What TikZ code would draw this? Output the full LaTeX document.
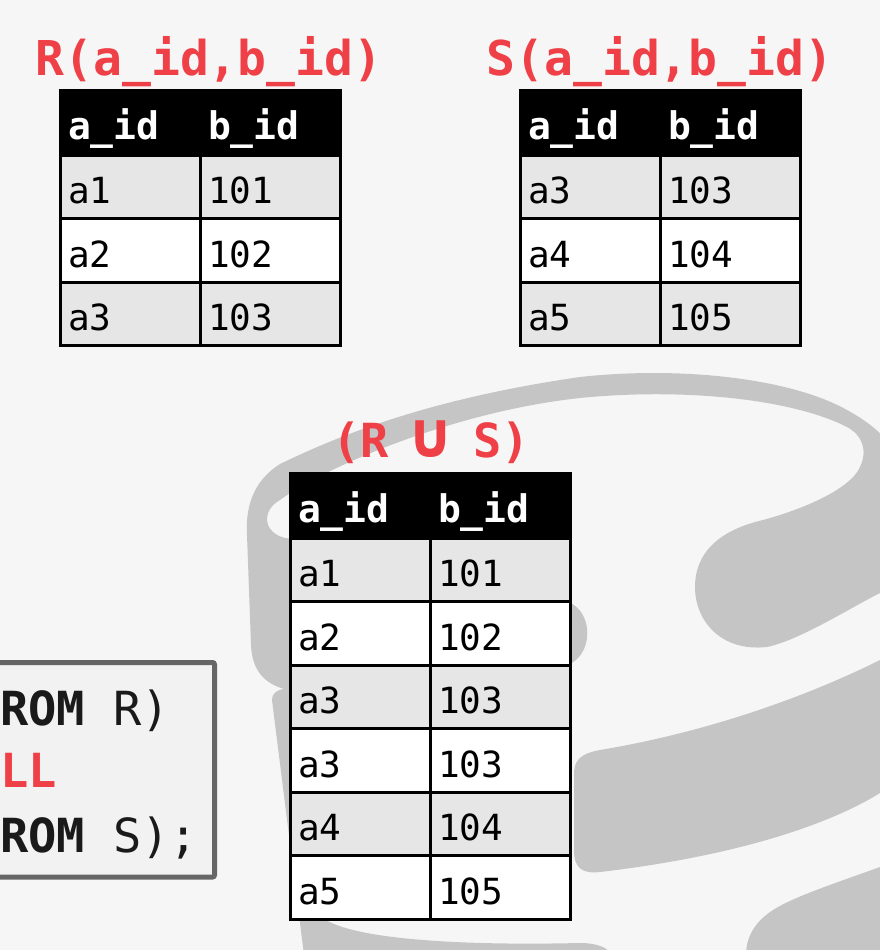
\documentclass[tikz,border=0pt]{standalone}
\usepackage{fontspec}
\setmonofont{DejaVu Sans Mono}
\usepackage{tikz}
\usetikzlibrary{positioning}

\definecolor{dbred}{RGB}{238,64,70}
\definecolor{logogray}{RGB}{197,197,197}
\definecolor{rowgray}{RGB}{230,230,230}
\definecolor{bggray}{RGB}{246,246,246}
\definecolor{boxline}{RGB}{102,102,102}
\definecolor{boxfill}{RGB}{242,242,242}
\definecolor{codeblack}{RGB}{26,26,26}

\newcommand{\ttlfont}{\ttfamily\bfseries\fontsize{48pt}{54pt}\selectfont}
\newcommand{\unionfont}{\ttfamily\bfseries\fontsize{47pt}{52pt}\selectfont}
\newcommand{\hdrfont}{\ttfamily\bfseries\fontsize{38pt}{42pt}\selectfont}
\newcommand{\cellfont}{\ttfamily\fontsize{36pt}{40pt}\selectfont}
\newcommand{\codefont}{\ttfamily\fontsize{47pt}{52pt}\selectfont}
\newcommand{\cupsign}{\makebox[0.6em]{\scalebox{1.5}[1.35]{∪}}}

\tikzstyle{cell} = [rectangle, draw=black, line width=3pt, outer sep=0pt, minimum height=63.5pt, text width=124pt, inner xsep=8pt, inner ysep=0pt, text height=34pt, text depth=0pt, align=left, font=\cellfont]
\tikzstyle{hdr} = [cell, fill=black, text=white, minimum height=65pt, font=\hdrfont]
\tikzstyle{grayrow} = [cell, fill=rowgray]
\tikzstyle{whiterow} = [cell, fill=white]
\tikzstyle{title} = [text=dbred, font=\ttlfont, anchor=base, inner sep=0pt]
\tikzstyle{code} = [text=codeblack, font=\codefont, anchor=base west, inner sep=0pt]
\tikzstyle{logo} = [fill=logogray]

\begin{document}
\begin{tikzpicture}[x=1pt, y=-1pt]
    \useasboundingbox (0,0) rectangle (880,950);
    \clip (0,0) rectangle (880,950);
    \fill[bggray] (0,0) rectangle (880,950);

    % logo in the background
    \fill[logo] (300,690) -- (288,690) .. controls (262,684) and (252,668) .. (251,645)
        -- (247,535) .. controls (245,500) and (258,478) .. (280,464)
        .. controls (330,440) and (420,400) .. (580,377)
        .. controls (680,366) and (790,378) .. (847,410)
        .. controls (880,428) and (900,450) .. (900,470)
        -- (900,585) -- (880,593)
        .. controls (850,608) and (800,640) .. (767,647)
        .. controls (720,652) and (695,620) .. (695,587)
        .. controls (695,552) and (720,530) .. (763,520)
        .. controls (800,510) and (850,490) .. (860,467)
        .. controls (868,450) and (862,435) .. (847,427)
        .. controls (790,398) and (680,388) .. (580,398)
        .. controls (450,412) and (320,470) .. (280,500)
        .. controls (262,510) and (262,532) .. (285,538)
        -- (300,540) -- cycle;
    \fill[logo] (295,612) -- (555,600) .. controls (598,598) and (598,668) .. (555,667) -- (295,680) -- cycle;
    \fill[logo] (900,650) -- (880,660) .. controls (820,690) and (720,730) .. (600,750)
        .. controls (578,754) and (574,762) .. (574,775) -- (574,850)
        .. controls (574,868) and (582,874) .. (600,872)
        .. controls (720,858) and (820,830) .. (880,793) -- (900,785) -- cycle;
    \fill[logo] (272,700) .. controls (272,692) and (280,688) .. (292,688) -- (305,690) -- (305,880) -- (323,918)
        .. controls (350,938) and (450,946) .. (580,943)
        .. controls (598,943) and (608,948) .. (612,955) -- (304,955) -- cycle;
    \fill[logo] (900,858) -- (880,867) .. controls (830,885) and (790,898) .. (770,912)
        .. controls (752,925) and (746,940) .. (746,955) -- (900,955) -- cycle;

    % table R
    \node (rtitle) [title] at (209,75) {R(a\_id,b\_id)};
    \node (rh1) [hdr, anchor=north west] at (60,90) {a\_id};
    \node (rh2) [hdr, right=0pt of rh1] {b\_id};
    \node (r11) [grayrow, below=0pt of rh1] {a1};
    \node (r12) [grayrow, below=0pt of rh2] {101};
    \node (r21) [whiterow, below=0pt of r11] {a2};
    \node (r22) [whiterow, below=0pt of r12] {102};
    \node (r31) [grayrow, below=0pt of r21] {a3};
    \node (r32) [grayrow, below=0pt of r22] {103};

    % table S
    \node (stitle) [title] at (660,75) {S(a\_id,b\_id)};
    \node (sh1) [hdr, anchor=north west] at (520,90) {a\_id};
    \node (sh2) [hdr, right=0pt of sh1] {b\_id};
    \node (s11) [grayrow, below=0pt of sh1] {a3};
    \node (s12) [grayrow, below=0pt of sh2] {103};
    \node (s21) [whiterow, below=0pt of s11] {a4};
    \node (s22) [whiterow, below=0pt of s12] {104};
    \node (s31) [grayrow, below=0pt of s21] {a5};
    \node (s32) [grayrow, below=0pt of s22] {105};

    % result of the union
    \node (utitle) [title, font=\unionfont] at (431,457) {(R \cupsign{} S)};
    \node (uh1) [hdr, anchor=north west] at (290,473) {a\_id};
    \node (uh2) [hdr, right=0pt of uh1] {b\_id};
    \node (u11) [grayrow, below=0pt of uh1] {a1};
    \node (u12) [grayrow, below=0pt of uh2] {101};
    \node (u21) [whiterow, below=0pt of u11] {a2};
    \node (u22) [whiterow, below=0pt of u12] {102};
    \node (u31) [grayrow, below=0pt of u21] {a3};
    \node (u32) [grayrow, below=0pt of u22] {103};
    \node (u41) [whiterow, below=0pt of u31] {a3};
    \node (u42) [whiterow, below=0pt of u32] {103};
    \node (u51) [grayrow, below=0pt of u41] {a4};
    \node (u52) [grayrow, below=0pt of u42] {104};
    \node (u61) [whiterow, below=0pt of u51] {a5};
    \node (u62) [whiterow, below=0pt of u52] {105};

    % sql box, cut at the left edge
    \draw[boxline, fill=boxfill, line width=5pt, rounded corners=2pt] (-20,662.5) rectangle (214.5,877);
    \node (codeA) [code] at (0,725) {\textbf{ROM} R)};
    \node (codeB) [code, text=dbred] at (0,787) {\textbf{LL}};
    \node (codeC) [code] at (0,852) {\textbf{ROM} S);};
\end{tikzpicture}
\end{document}
